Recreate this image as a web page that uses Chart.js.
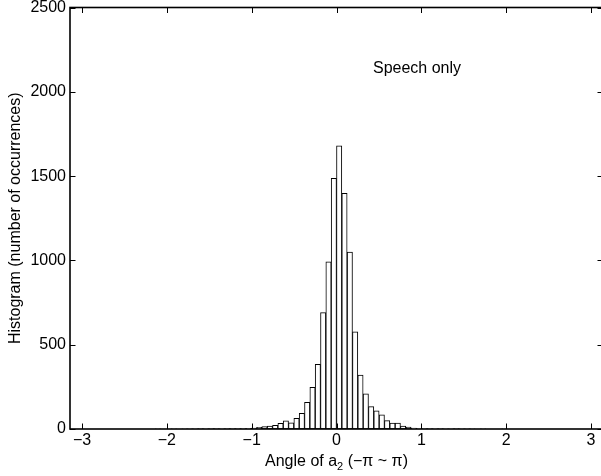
<!DOCTYPE html>
<html>
<head>
<meta charset="utf-8">
<script src="https://cdn.jsdelivr.net/npm/chart.js@4.4.1/dist/chart.umd.min.js"></script>
<style>
  html, body { margin: 0; padding: 0; background: #fff; overflow: hidden; }
  canvas { display: block; }
</style>
</head>
<body>
<canvas id="c" width="601" height="476"></canvas>
<script>
// ---- data ----
const binCount = 100;           // histogram bins over [-pi, pi]
const xMin = -Math.PI, xMax = Math.PI;
const counts = [
  0,0,0,0,0,0,0,0,0,0,
  0,0,0,0,0,0,1,0,0,1,
  0,1,1,1,2,1,2,2,1,2,
  2,3,3,4,6,10,15,18,22,33,
  49,37,63,93,158,247,384,690,992,1487,
  1680,1398,1050,577,320,208,133,108,84,50,
  35,35,18,12,5,4,3,2,1,2,
  1,1,2,1,1,1,0,1,0,0,
  0,1,0,0,0,0,0,0,0,0,
  0,0,0,0,0,0,0,0,0,0
];
const xTickVals = [-3, -2, -1, 0, 1, 2, 3];
const yTickVals = [0, 500, 1000, 1500, 2000, 2500];
const yMax = 2500;
const annotationText = 'Speech only';
const annotationAt = [0.43, 2112];
const xTitleParts = ['Angle of a', '2', ' (\u2212\u03c0 ~ \u03c0)'];
const yTitle = 'Histogram (number of occurrences)';

const binWidth = (xMax - xMin) / binCount;
const points = counts.map((c, i) => ({ x: xMin + (i + 0.5) * binWidth, y: c }));

const FONT = '"Liberation Sans", Arial, Helvetica, sans-serif';

// the axes box of the original extends a little past the right edge of the picture
const extendRight = {
  id: 'extendRight',
  afterLayout(chart) {
    const extra = 2;
    const x = chart.scales.x;
    x.right += extra;
    x.width += extra;
    chart.chartArea.right += extra;
    chart.chartArea.width += extra;
    x.configure();
  }
};

const decor = {
  id: 'decor',
  afterDatasetsDraw(chart) {
    const { ctx, chartArea: a, scales: { x, y } } = chart;
    ctx.save();
    ctx.strokeStyle = '#000';
    ctx.lineWidth = 1;
    const line = (x1, y1, x2, y2) => { ctx.beginPath(); ctx.moveTo(x1, y1); ctx.lineTo(x2, y2); ctx.stroke(); };
    const tl = 5.5;
    xTickVals.forEach(v => {
      const px = Math.round(x.getPixelForValue(v)) + 0.5;
      line(px, a.bottom, px, a.bottom - tl);
      line(px, a.top, px, a.top + tl);
    });
    yTickVals.forEach(v => {
      const py = Math.round(y.getPixelForValue(v)) + 0.5;
      line(a.left, py, a.left + tl, py);
      line(a.right, py, a.right - tl, py);
    });
    ctx.lineWidth = 1.6;
    ctx.strokeRect(a.left, a.top, a.right - a.left, a.bottom - a.top);

    ctx.fillStyle = '#000';
    ctx.font = '16px ' + FONT;
    ctx.textBaseline = 'alphabetic';
    ctx.textAlign = 'left';
    ctx.fillText(annotationText, x.getPixelForValue(annotationAt[0]), y.getPixelForValue(annotationAt[1]));

    // x title with subscript
    ctx.font = '16px ' + FONT;
    const w0 = ctx.measureText(xTitleParts[0]).width;
    const w2 = ctx.measureText(xTitleParts[2]).width;
    ctx.font = '11px ' + FONT;
    const w1 = ctx.measureText(xTitleParts[1]).width;
    const total = w0 + w1 + w2;
    let cx = (a.left + a.right) / 2 - total / 2;
    const base = 466;
    ctx.font = '16px ' + FONT;
    ctx.fillText(xTitleParts[0], cx, base); cx += w0;
    ctx.font = '11px ' + FONT;
    ctx.fillText(xTitleParts[1], cx, base + 4); cx += w1;
    ctx.font = '16px ' + FONT;
    ctx.fillText(xTitleParts[2], cx, base);

    // y title
    ctx.save();
    ctx.translate(19.5, (a.top + a.bottom) / 2);
    ctx.rotate(-Math.PI / 2);
    ctx.textAlign = 'center';
    ctx.fillText(yTitle, 0, 0);
    ctx.restore();
    ctx.restore();
  }
};

new Chart(document.getElementById('c'), {
  type: 'bar',
  data: {
    datasets: [{
      data: points,
      backgroundColor: '#ffffff',
      borderColor: '#000000',
      borderWidth: 1,
      barPercentage: 1,
      categoryPercentage: 1,
      borderSkipped: false
    }]
  },
  options: {
    responsive: false,
    animation: false,
    devicePixelRatio: 1,
    layout: { padding: { top: 7.5, right: 0, left: 0, bottom: 0 } },
    plugins: { legend: { display: false }, tooltip: { enabled: false } },
    scales: {
      x: {
        type: 'linear',
        min: xMin, max: xMax,
        offset: false,
        afterBuildTicks: s => { s.ticks = xTickVals.map(v => ({ value: v })); },
        afterFit: s => { s.height = 47; s.paddingLeft = 0; s.paddingRight = 0; },
        grid: { display: false, drawTicks: false },
        border: { display: false },
        ticks: {
          padding: 2,
          color: '#000',
          font: { family: FONT, size: 16 },
          maxRotation: 0,
          callback: v => String(v).replace('-', '\u2212')
        }
      },
      y: {
        min: 0, max: yMax,
        afterBuildTicks: s => { s.ticks = yTickVals.map(v => ({ value: v })); },
        afterFit: s => { s.width = 70; s.paddingTop = 0; s.paddingBottom = 0; },
        grid: { display: false, drawTicks: false },
        border: { display: false },
        ticks: {
          padding: 4,
          color: '#000',
          font: { family: FONT, size: 16 },
          callback: v => String(v)
        }
      }
    }
  },
  plugins: [extendRight, decor]
});
</script>
</body>
</html>
